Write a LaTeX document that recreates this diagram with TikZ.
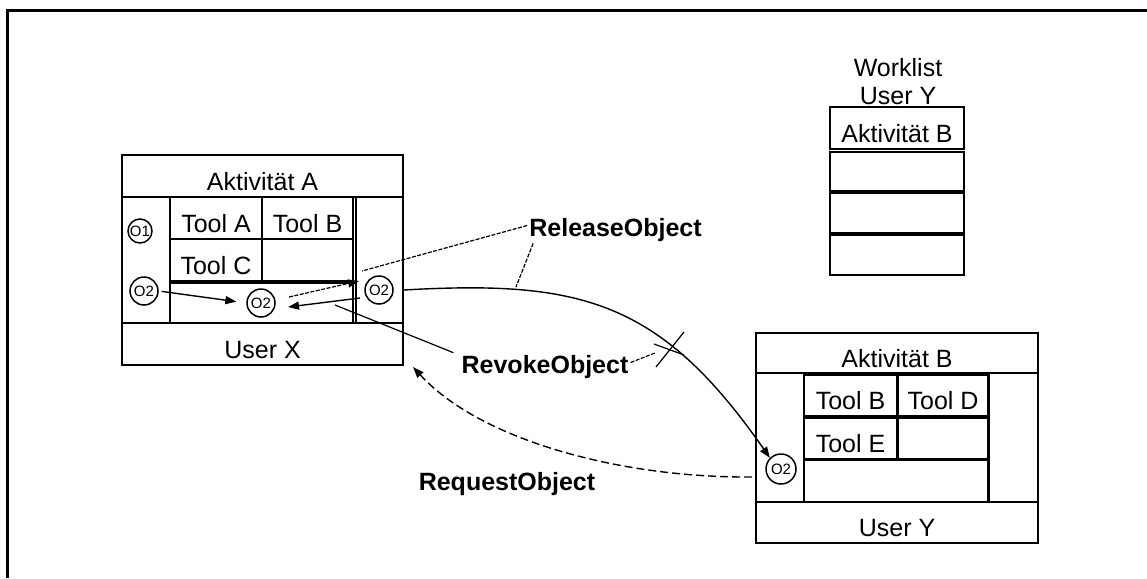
\documentclass[tikz,border=0pt]{standalone}
\usepackage{fontspec}
\setmainfont{Liberation Sans}
\usetikzlibrary{arrows.meta}
\begin{document}
\begin{tikzpicture}[x=1pt,y=-1pt,
  cellbox/.style={draw, line width=1.8pt, inner sep=0pt, text height=28pt, text depth=0pt,
    font=\fontsize{25}{29}\selectfont},
  boldlbl/.style={font=\fontsize{25}{29}\selectfont\bfseries, inner sep=2pt, anchor=base},
  obj/.style={circle, draw, line width=1.5pt, fill=white, inner sep=0pt,
    font=\fontsize{15}{15}\selectfont},
  conn/.style={line width=1.4pt},
  pointer/.style={line width=1.2pt, dash pattern=on 4pt off 1.5pt},
  reqline/.style={line width=1.4pt, dash pattern=on 8pt off 4pt},
  >={Triangle[length=11pt,width=8pt]}
]
\useasboundingbox (0,0) rectangle (1147,578);
% frame
\draw[line width=3pt, line join=miter] (7.3,578) -- (7.3,10.7) -- (1147,10.7);

% ---------- box A ----------
\node[cellbox, minimum width=281, minimum height=42] (aTitle) at (262.5,176) {Aktivität A};
\node[cellbox, minimum width=281, minimum height=126] (aMid) at (262.5,260) {};
\node[cellbox, minimum width=281, minimum height=42] (aUser) at (262.5,344) {User X};
\node[cellbox, minimum width=48, minimum height=126] (aLeft) at (146,260) {};
\node[cellbox, minimum width=47, minimum height=126] (aRight) at (379.5,260) {};
\node[cellbox, minimum width=92, minimum height=42] (aToolA) at (216,218) {Tool A};
\node[cellbox, minimum width=91, minimum height=42] (aToolB) at (307.5,218) {Tool B};
\node[cellbox, minimum width=92, minimum height=42] (aToolC) at (216,260) {Tool C};
\node[cellbox, minimum width=91, minimum height=42] (aEmpty) at (307.5,260) {};
\node[cellbox, minimum width=183, minimum height=40] (aBottom) at (261.5,303) {};

% ---------- box B ----------
\node[cellbox, minimum width=282, minimum height=40] (bTitle) at (897,353) {Aktivität B};
\node[cellbox, minimum width=282, minimum height=129] (bMid) at (897,437.5) {};
\node[cellbox, minimum width=282, minimum height=41] (bUser) at (897,522.5) {User Y};
\node[cellbox, minimum width=48, minimum height=129] (bLeft) at (780,437.5) {};
\node[cellbox, minimum width=49, minimum height=129] (bRight) at (1013.5,437.5) {};
\node[cellbox, minimum width=93, minimum height=41] (bToolB) at (850.5,395.5) {Tool B};
\node[cellbox, minimum width=90, minimum height=41] (bToolD) at (943,395.5) {Tool D};
\node[cellbox, minimum width=93, minimum height=41] (bToolE) at (850.5,438.5) {Tool E};
\node[cellbox, minimum width=90, minimum height=41] (bEmpty) at (943,438.5) {};
\node[cellbox, minimum width=184, minimum height=42] (bBottom) at (896,481) {};

% ---------- worklist ----------
\node[font=\fontsize{25}{28}\selectfont, align=center, inner sep=0pt] (wlHead) at (898,82) {Worklist\\User Y};
\node[cellbox, minimum width=134, minimum height=42] (w1) at (897,128) {Aktivität B};
\node[cellbox, minimum width=134, minimum height=39] (w2) at (897,171.5) {};
\node[cellbox, minimum width=134, minimum height=40] (w3) at (897,213) {};
\node[cellbox, minimum width=134, minimum height=40] (w4) at (897,255) {};

% ---------- objects ----------
\node[obj, minimum size=24] (o1) at (140,231) {O1};
\node[obj, minimum size=28] (o2l) at (144,291) {O2};
\node[obj, minimum size=28] (o2m) at (261,303) {O2};
\node[obj, minimum size=28] (o2r) at (379,290) {O2};
\node[obj, minimum size=30] (o2b) at (781,469) {O2};

% ---------- labels ----------
\node[boldlbl] (rel) at (615.5,236) {ReleaseObject};
\node[boldlbl] (rev) at (545,373) {RevokeObject};
\node[boldlbl] (req) at (507,490) {RequestObject};

% ---------- coordinates ----------
\coordinate (relA) at (362,271);
\coordinate (relB) at (516,287);
\coordinate (revA) at (335,305);
\coordinate (xc) at (669,349);
\coordinate (reqS) at (752,477);
\coordinate (reqE) at (413,367);

% ---------- arrows inside A ----------
\draw[conn, ->, shorten <=3pt, shorten >=10pt] (o2l.east) -- (o2m.west);
\draw[conn, ->] ([shift={(-19,8)}]o2r.center) -- ([shift={(27,4)}]o2m.center);
\draw[pointer, ->] ([shift={(28,-6)}]o2m.center) -- ([shift={(-20,-9)}]o2r.center);

% ---------- release curve ----------
\draw[conn, ->] (o2r -| aMid.east) .. controls (580,280) and (660,300) .. (o2b.135);

% ---------- request curve ----------
\draw[reqline, ->] (reqS) .. controls (620,478) and (480,440) .. (reqE);

% ---------- label pointers ----------
\draw[pointer] ([yshift=4pt]rel.west) -- (relA);
\draw[pointer] ([xshift=6pt]rel.south west) -- (relB);
\draw[line width=1.2pt] ([xshift=-6pt]rev.north west) -- (revA);
\draw[pointer] ([yshift=4pt]rev.east) -- ([shift={(-14,4)}]xc);
\draw[line width=1.2pt] ([shift={(15,-17)}]xc) -- ([shift={(-13,18)}]xc);
\draw[line width=1.2pt] ([shift={(-15,-5)}]xc) -- ([shift={(15,6)}]xc);
\end{tikzpicture}
\end{document}
